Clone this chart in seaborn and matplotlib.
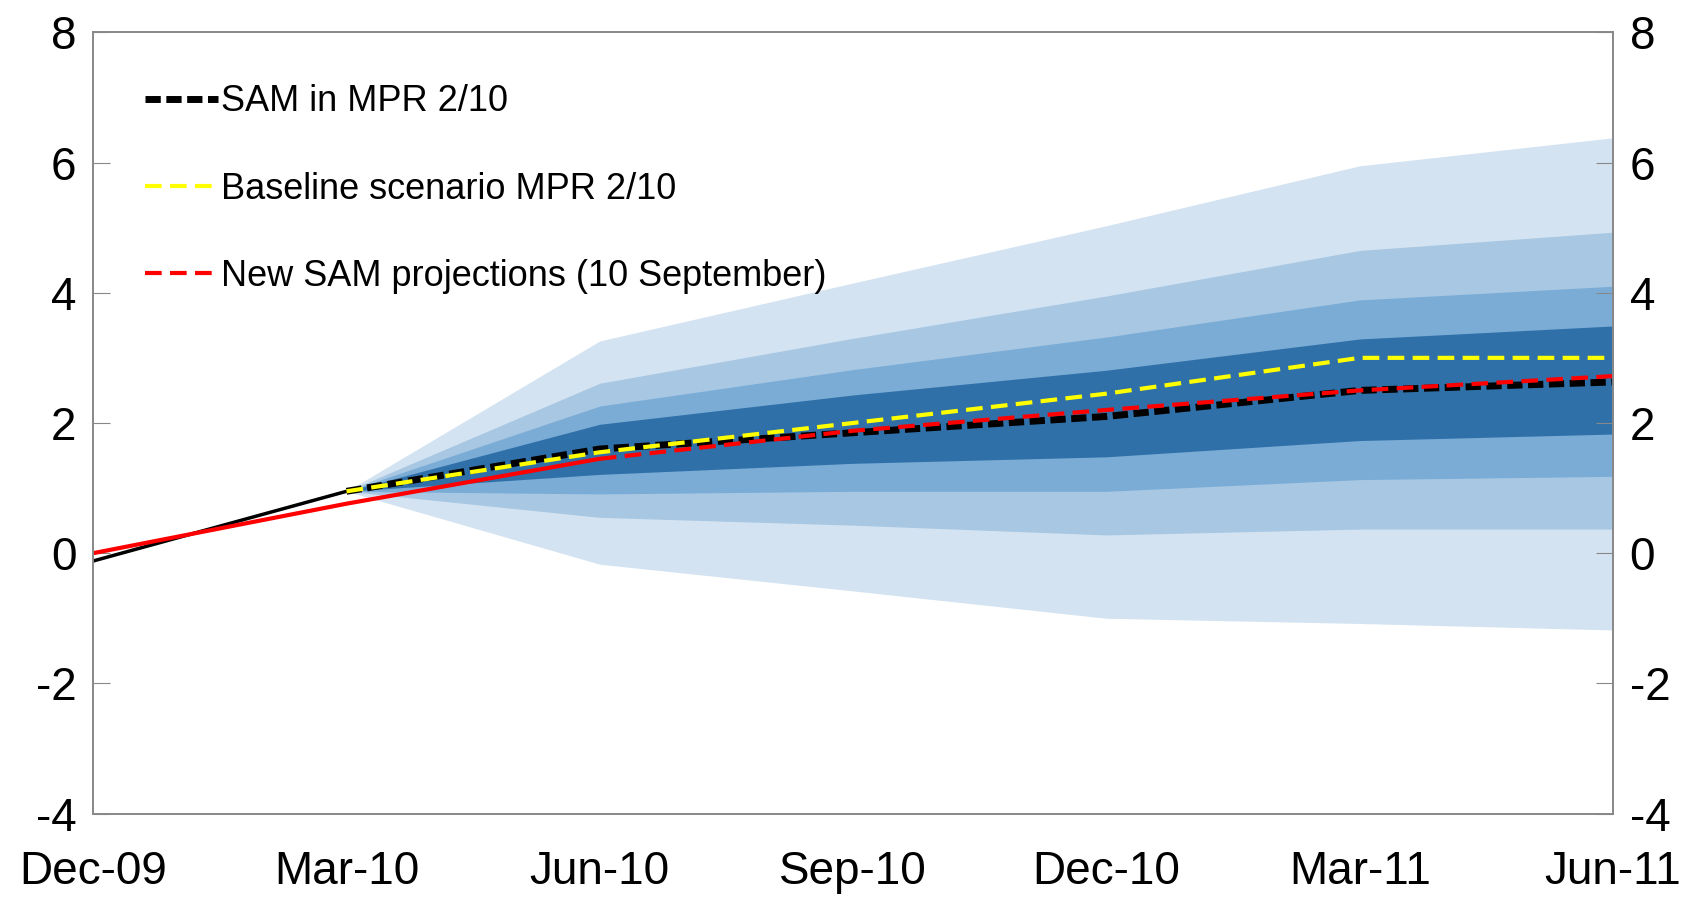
import numpy as np
import pandas as pd
import matplotlib
matplotlib.use("Agg")
import matplotlib.pyplot as plt
import seaborn as sns

quarters = ["Dec-09", "Mar-10", "Jun-10", "Sep-10", "Dec-10", "Mar-11", "Jun-11"]
fan_q = [1, 2, 3, 4, 5, 6]
# fan bands (Mar-10 .. Jun-11)
outer_hi = [0.95, 3.26, 4.15, 5.03, 5.95, 6.38]
outer_lo = [0.95, -0.17, -0.58, -1.00, -1.08, -1.18]
b2_hi = [0.95, 2.61, 3.30, 3.95, 4.65, 4.93]
b2_lo = [0.95, 0.55, 0.43, 0.28, 0.37, 0.37]
b3_hi = [0.95, 2.26, 2.82, 3.32, 3.89, 4.10]
b3_lo = [0.95, 0.91, 0.95, 0.95, 1.13, 1.18]
b4_hi = [0.95, 1.98, 2.43, 2.81, 3.29, 3.49]
b4_lo = [0.95, 1.21, 1.38, 1.48, 1.73, 1.83]

sam_mpr = [-0.12, 0.95, 1.60, 1.85, 2.10, 2.50, 2.63]
baseline = [None, 0.95, 1.55, 2.00, 2.45, 3.00, 3.00]
new_sam = [0.0, 0.76, 1.45, 1.88, 2.20, 2.50, 2.72]

sns.set_style("white")
plt.rcParams["font.family"] = ["Liberation Sans", "DejaVu Sans"]
plt.rcParams["axes.unicode_minus"] = False
plt.rcParams["text.color"] = "black"
plt.rcParams["xtick.labelcolor"] = "black"
plt.rcParams["ytick.labelcolor"] = "black"
fig = plt.figure(figsize=(17.01, 8.98), dpi=100)
ax = fig.add_axes([0.0548, 0.094, 0.8935, 0.87])

x = np.arange(len(quarters))
fx = np.array(fan_q)
for lo, hi, c in [(outer_lo, outer_hi, "#d3e3f1"), (b2_lo, b2_hi, "#a8c7e3"),
                  (b3_lo, b3_hi, "#7aacd6"), (b4_lo, b4_hi, "#3070a8")]:
    ax.fill_between(fx, lo, hi, color=c, lw=0)

df = pd.DataFrame({"q": x, "sam": sam_mpr, "base": baseline, "new": new_sam}).astype(float)

# solid history parts
sns.lineplot(data=df.iloc[0:2], x="q", y="sam", ax=ax, color="black", lw=2.5)
sns.lineplot(data=df.iloc[0:3], x="q", y="new", ax=ax, color="red", lw=3)
# dashed projections
sns.lineplot(data=df.iloc[1:], x="q", y="sam", ax=ax, color="black", lw=5,
             linestyle=(0, (2.2, 0.8)), label="SAM in MPR 2/10")
sns.lineplot(data=df.iloc[1:], x="q", y="base", ax=ax, color="#ffff00", lw=3,
             linestyle=(0, (4, 2)), label="Baseline scenario MPR 2/10")
sns.lineplot(data=df.iloc[2:], x="q", y="new", ax=ax, color="red", lw=3,
             linestyle=(0, (4, 2)), label="New SAM projections (10 September)")

ax.set_xlim(0, 6)
ax.set_ylim(-4, 8)
ax.set_xticks(x)
ax.set_xticklabels(quarters)
ax.set_yticks(range(-4, 9, 2))
ax.set_xlabel("")
ax.set_ylabel("")
ax.tick_params(axis="both", labelsize=33, direction="in", length=12, color="#888888")
ax.tick_params(axis="x", pad=26)
ax.tick_params(axis="y", pad=12)
for s in ax.spines.values():
    s.set_color("#888888")
    s.set_linewidth(1.2)

ax2 = ax.twinx()
ax2.set_ylim(-4, 8)
ax2.set_yticks(range(-4, 9, 2))
ax2.tick_params(axis="y", labelsize=33, direction="in", length=12, color="#888888", pad=12)
for s in ax2.spines.values():
    s.set_color("#888888")
    s.set_linewidth(1.2)

leg = ax.legend(loc="upper left", bbox_to_anchor=(0.013, 0.975), frameon=False,
                fontsize=26, handlelength=2.0, handletextpad=0.1, labelspacing=1.45)

fig.savefig("out.png", dpi=100)
